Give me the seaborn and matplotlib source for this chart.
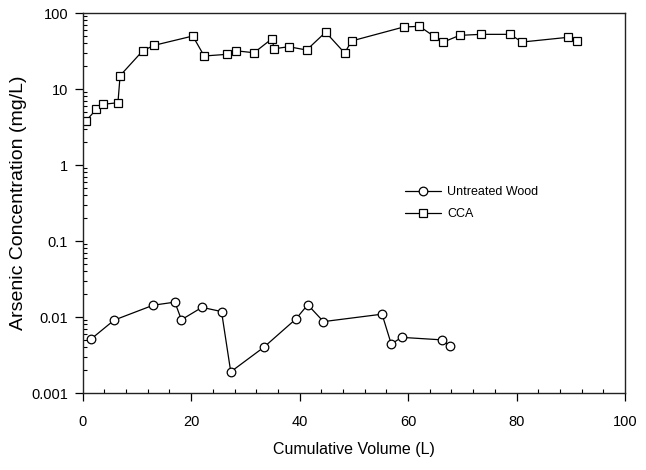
import numpy as np
import pandas as pd
import matplotlib
matplotlib.use("Agg")
import matplotlib.pyplot as plt
import matplotlib.ticker as mticker
import seaborn as sns

cca_volume = [0.6, 2.5, 3.8, 6.5, 6.9, 11.1, 13.2, 20.3, 22.4, 26.6, 28.2, 31.6,
              34.9, 35.3, 38.0, 41.3, 44.8, 48.3, 49.6, 59.2, 62.1, 64.7, 66.5,
              69.5, 73.4, 78.8, 81.0, 89.5, 91.1]
cca_conc = [3.8, 5.4, 6.3, 6.6, 15, 32, 37.6, 49.8, 27.2, 28.6, 31.9, 30,
            45.9, 33.9, 36, 32.6, 56, 29.8, 42.9, 65.5, 66.8, 49.8, 41.5,
            50.8, 52.4, 52.4, 41.5, 47.9, 43.3]

wood_volume = [1.5, 5.8, 13.0, 17.0, 18.2, 22.0, 25.6, 27.3, 33.4, 39.3, 41.5,
               44.4, 55.2, 56.9, 58.8, 66.3, 67.8]
wood_conc = [0.0051, 0.0091, 0.0143, 0.0157, 0.0092, 0.0134, 0.0118, 0.0019,
             0.0040, 0.0094, 0.0145, 0.0087, 0.0109, 0.0044, 0.0054, 0.0050,
             0.0041]

x_ticks = [0, 20, 40, 60, 80, 100]
y_ticks = [0.001, 0.01, 0.1, 1, 10, 100]
y_tick_labels = ["0.001", "0.01", "0.1", "1", "10", "100"]

sns.set_theme(style="white")
plt.rcParams['font.family'] = ['Liberation Sans', 'DejaVu Sans']
plt.rcParams['text.color'] = 'black'

fig = plt.figure(figsize=(6.46, 4.70), dpi=100)
ax = fig.add_axes([0.128, 0.1638, 0.8395, 0.8085])

wood_df = pd.DataFrame({"v": wood_volume, "c": wood_conc})
cca_df = pd.DataFrame({"v": cca_volume, "c": cca_conc})

common = dict(color="black", linewidth=0.9, markersize=6.2,
              markerfacecolor="white", markeredgecolor="black",
              markeredgewidth=0.9, sort=False)
sns.lineplot(data=wood_df, x="v", y="c", marker="o", ax=ax,
             label="Untreated Wood", **common)
sns.lineplot(data=cca_df, x="v", y="c", marker="s", ax=ax,
             label="CCA", **common)

ax.set_yscale("log")
ax.set_xlim(0, 100)
ax.set_ylim(0.001, 100)
ax.set_xticks(x_ticks)
ax.set_xticklabels([str(t) for t in x_ticks])
ax.yaxis.set_major_locator(mticker.FixedLocator(y_ticks))
ax.yaxis.set_major_formatter(mticker.FixedFormatter(y_tick_labels))
ax.yaxis.set_minor_locator(mticker.LogLocator(base=10, subs=np.arange(2, 10)))
ax.yaxis.set_minor_formatter(mticker.NullFormatter())
ax.xaxis.set_minor_locator(mticker.MultipleLocator(4))

ax.tick_params(which="major", direction="out", length=5.5, width=0.9,
               color="black", labelsize=10.5, pad=5, labelcolor="black",
               bottom=True, left=True, top=False, right=False)
ax.tick_params(axis="x", which="major", pad=10)
ax.tick_params(which="minor", direction="in", length=3, width=0.8,
               color="black", bottom=True, left=True, top=False, right=False)

for s in ax.spines.values():
    s.set_color("#222222")
    s.set_linewidth(1.0)

ax.set_xlabel("Cumulative Volume (L)", fontsize=11.5, labelpad=10, color="black")
ax.set_ylabel("Arsenic Concentration (mg/L)", fontsize=14, labelpad=3, color="black")

leg = ax.legend(loc="upper left", bbox_to_anchor=(0.585, 0.558), frameon=False,
                fontsize=9, handlelength=2.9, handletextpad=0.5,
                labelspacing=0.8, borderaxespad=0)
for t in leg.get_texts():
    t.set_color("black")

fig.savefig("out.png", dpi=100, facecolor="white")
